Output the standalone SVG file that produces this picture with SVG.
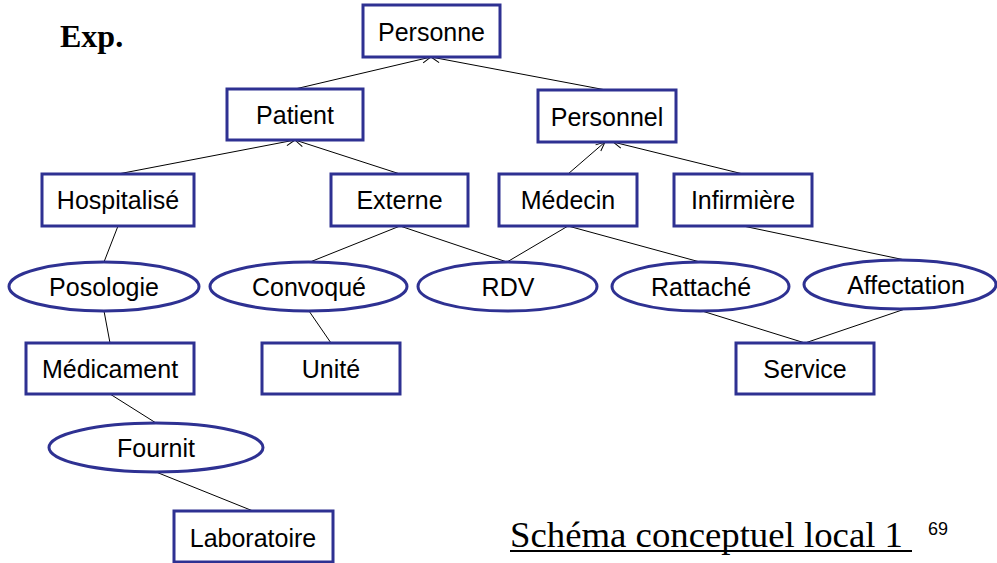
<svg xmlns="http://www.w3.org/2000/svg" width="997" height="563" viewBox="0 0 997 563">
  <defs>
    <marker id="open-arrow" viewBox="0 0 10 10" refX="10" refY="5" markerWidth="10" markerHeight="10" markerUnits="userSpaceOnUse" orient="auto">
      <path d="M1,1 L10,5 L1,9" fill="none" stroke="#000" stroke-width="1"/>
    </marker>
  </defs>
  <style>
    .entity rect, .assoc ellipse { fill: #fff; stroke: #2e3192; stroke-width: 3; }
    .label { font-family: "Liberation Sans", Arial, sans-serif; font-size: 25px; fill: #000; text-anchor: middle; }
    .links line { stroke: #000; stroke-width: 1; }
    .isa { marker-end: url(#open-arrow); }
  </style>
  <rect width="997" height="563" fill="#fff"/>

  <text x="60" y="47" font-family="'Liberation Serif', serif" font-weight="bold" font-size="32">Exp.</text>

  <g class="links">
    <line class="isa" x1="295" y1="89" x2="431" y2="57"/>
    <line class="isa" x1="606" y1="90" x2="431" y2="57"/>
    <line class="isa" x1="118" y1="174" x2="295" y2="140"/>
    <line class="isa" x1="400" y1="174" x2="295" y2="140"/>
    <line class="isa" x1="568" y1="174" x2="605" y2="142"/>
    <line class="isa" x1="743" y1="174" x2="613" y2="142"/>
    <line x1="118" y1="226" x2="104" y2="262"/>
    <line x1="104" y1="311" x2="110" y2="343"/>
    <line x1="110" y1="394" x2="156" y2="423"/>
    <line x1="156" y1="472" x2="253" y2="511"/>
    <line x1="400" y1="226" x2="310" y2="262"/>
    <line x1="400" y1="226" x2="507" y2="262"/>
    <line x1="309" y1="311" x2="331" y2="343"/>
    <line x1="568" y1="226" x2="507" y2="262"/>
    <line x1="568" y1="226" x2="700" y2="262"/>
    <line x1="743" y1="226" x2="905" y2="260"/>
    <line x1="702" y1="311" x2="805" y2="343"/>
    <line x1="905" y1="309" x2="805" y2="343"/>
  </g>

  <g id="personne" class="entity"><rect x="363" y="5" width="137" height="52"/><text class="label" x="431.5" y="41">Personne</text></g>
  <g id="patient" class="entity"><rect x="227" y="89" width="136" height="51"/><text class="label" x="295" y="124">Patient</text></g>
  <g id="personnel" class="entity"><rect x="538" y="90" width="138" height="52"/><text class="label" x="607" y="126">Personnel</text></g>
  <g id="hospitalise" class="entity"><rect x="42" y="174" width="152" height="52"/><text class="label" x="118" y="209">Hospitalisé</text></g>
  <g id="externe" class="entity"><rect x="331" y="174" width="137" height="52"/><text class="label" x="399.5" y="209">Externe</text></g>
  <g id="medecin" class="entity"><rect x="499" y="174" width="138" height="52"/><text class="label" x="568" y="209">Médecin</text></g>
  <g id="infirmiere" class="entity"><rect x="674" y="174" width="138" height="52"/><text class="label" x="743" y="209">Infirmière</text></g>

  <g id="posologie" class="assoc"><ellipse cx="104" cy="286.5" rx="95" ry="24.5"/><text class="label" x="104" y="296">Posologie</text></g>
  <g id="convoque" class="assoc"><ellipse cx="308.5" cy="286.5" rx="98.5" ry="24.5"/><text class="label" x="309" y="296">Convoqué</text></g>
  <g id="rdv" class="assoc"><ellipse cx="507.5" cy="286.5" rx="89.5" ry="24.5"/><text class="label" x="508" y="296">RDV</text></g>
  <g id="rattache" class="assoc"><ellipse cx="700.5" cy="286.5" rx="88.5" ry="24.5"/><text class="label" x="701" y="296">Rattaché</text></g>
  <g id="affectation" class="assoc"><ellipse cx="900" cy="284.5" rx="96" ry="24.5"/><text class="label" x="906" y="294">Affectation</text></g>

  <g id="medicament" class="entity"><rect x="26" y="343" width="168" height="51"/><text class="label" x="110" y="378">Médicament</text></g>
  <g id="unite" class="entity"><rect x="262" y="343" width="138" height="51"/><text class="label" x="331" y="378">Unité</text></g>
  <g id="service" class="entity"><rect x="736" y="343" width="138" height="51"/><text class="label" x="805" y="378">Service</text></g>

  <g id="fournit" class="assoc"><ellipse cx="156" cy="447.5" rx="107" ry="24.5"/><text class="label" x="156" y="457">Fournit</text></g>
  <g id="laboratoire" class="entity"><rect x="174" y="511" width="159" height="51"/><text class="label" x="253" y="547" font-size="24">Laboratoire</text></g>

  <text x="510" y="547" font-family="'Liberation Serif', serif" font-size="35" textLength="393" lengthAdjust="spacingAndGlyphs">Schéma conceptuel local 1</text>
  <line x1="510" y1="551" x2="912" y2="551" stroke="#000" stroke-width="2"/>
  <text x="928" y="535" font-family="'Liberation Sans', Arial, sans-serif" font-size="18">69</text>
</svg>
